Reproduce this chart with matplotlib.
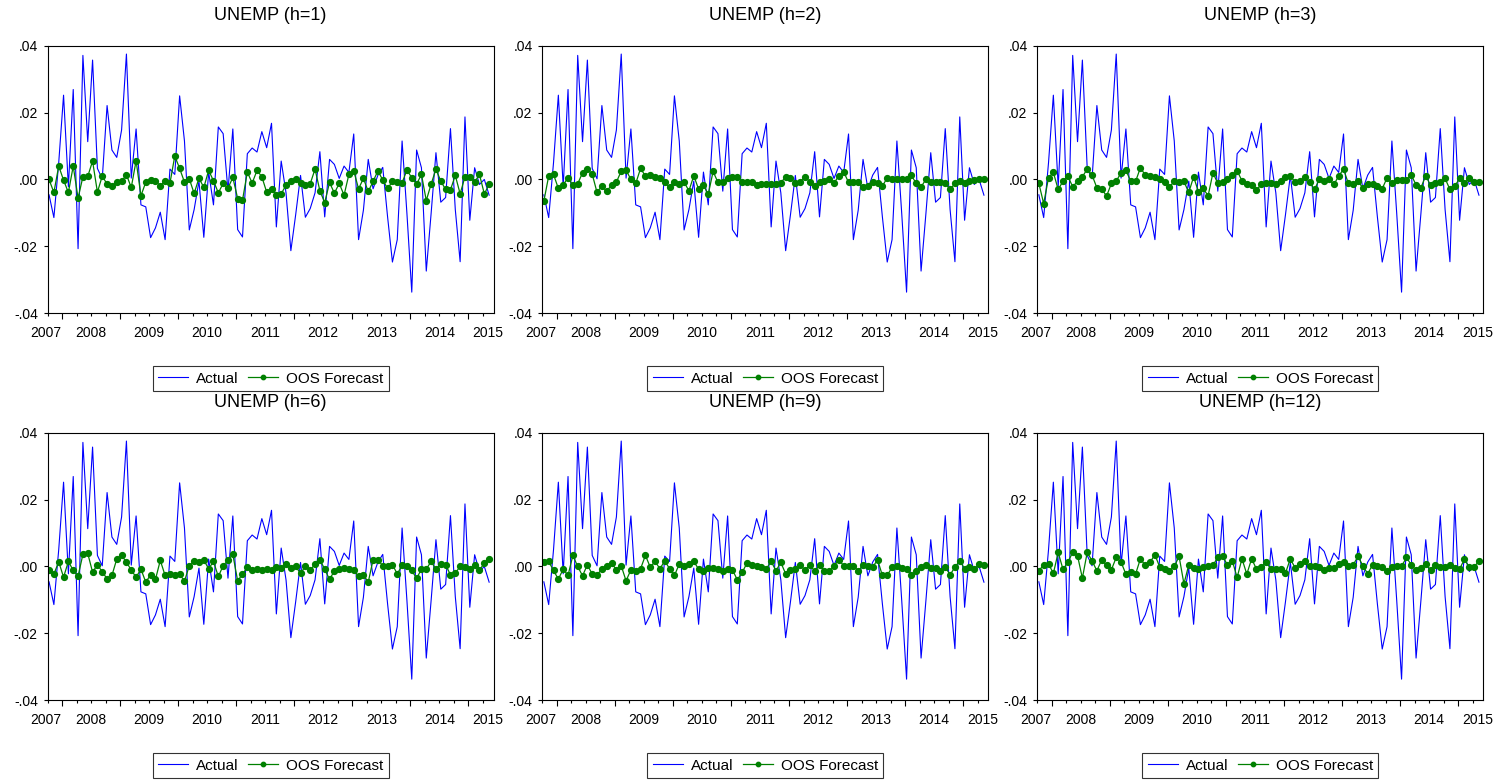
import numpy as np
import matplotlib
matplotlib.use("Agg")
from matplotlib import pyplot as plt
from matplotlib.transforms import blended_transform_factory

plt.rcParams['font.family'] = ['Liberation Sans', 'DejaVu Sans']

# monthly sample 2007M10 - 2015M05
start_year, start_month = 2007, 10
years = [2007, 2008, 2009, 2010, 2011, 2012, 2013, 2014, 2015]
horizons = [1, 2, 3, 6, 9, 12]

actual = [
    -0.0046, -0.0114, 0.0050, 0.0252, -0.0022, 0.0269, -0.0207, 0.0371, 0.0113, 0.0357,
    0.0033, 0.0002, 0.0221, 0.0088, 0.0066, 0.0148, 0.0375, 0.0004, 0.0151, -0.0076,
    -0.0082, -0.0174, -0.0145, -0.0098, -0.0180, 0.0031, 0.0015, 0.0250, 0.0115, -0.0151,
    -0.0090, -0.0005, -0.0173, 0.0022, -0.0076, 0.0157, 0.0137, -0.0035, 0.0151, -0.0150,
    -0.0172, 0.0077, 0.0094, 0.0082, 0.0143, 0.0095, 0.0168, -0.0142, 0.0055, -0.0040,
    -0.0213, -0.0105, 0.0012, -0.0113, -0.0087, -0.0040, 0.0083, -0.0112, 0.0060, 0.0045,
    0.0003, 0.0040, 0.0021, 0.0136, -0.0180, -0.0092, 0.0060, -0.0028, 0.0013, 0.0036,
    -0.0112, -0.0247, -0.0180, 0.0115, -0.0102, -0.0337, 0.0088, 0.0035, -0.0274, -0.0102,
    0.0080, -0.0068, -0.0054, 0.0152, -0.0090, -0.0246, 0.0187, -0.0122, 0.0035, -0.0015,
    0.0000, -0.0047,
]

fc_h1 = [
    0.0000, -0.0039, 0.0040, -0.0002, -0.0039, 0.0040, -0.0056, 0.0008, 0.0009, 0.0055,
    -0.0038, 0.0010, -0.0014, -0.0020, -0.0008, -0.0006, 0.0014, -0.0024, 0.0056, -0.0049,
    -0.0008, -0.0003, -0.0005, -0.0019, -0.0005, -0.0011, 0.0070, 0.0033, -0.0008, 0.0002,
    -0.0042, 0.0004, -0.0024, 0.0027, -0.0004, -0.0040, -0.0012, -0.0026, 0.0006, -0.0057,
    -0.0062, 0.0022, -0.0011, 0.0027, 0.0008, -0.0038, -0.0029, -0.0048, -0.0043, -0.0017,
    -0.0006, 0.0002, -0.0012, -0.0018, -0.0013, 0.0031, -0.0034, -0.0069, -0.0009, -0.0041,
    -0.0012, -0.0047, 0.0015, 0.0026, -0.0028, 0.0003, -0.0036, -0.0006, 0.0026, -0.0002,
    -0.0027, -0.0006, -0.0009, -0.0010, 0.0028, 0.0005, -0.0014, 0.0015, -0.0063, -0.0014,
    0.0031, -0.0005, -0.0030, -0.0031, 0.0012, -0.0043, 0.0008, 0.0006, -0.0008, 0.0015,
    -0.0043, -0.0015,
]

fc_h2 = [
    -0.0065, 0.0010, 0.0015, -0.0027, -0.0016, 0.0005, -0.0018, -0.0013, 0.0020, 0.0030,
    0.0016, -0.0039, -0.0019, -0.0036, -0.0016, -0.0008, 0.0025, 0.0028, 0.0000, -0.0012,
    0.0033, 0.0010, 0.0012, 0.0008, 0.0004, -0.0009, -0.0024, -0.0007, -0.0015, -0.0008,
    -0.0034, 0.0011, -0.0029, -0.0018, -0.0044, 0.0024, -0.0009, -0.0007, 0.0003, 0.0008,
    0.0008, -0.0008, -0.0009, -0.0009, -0.0016, -0.0013, -0.0013, -0.0014, -0.0014, -0.0010,
    0.0008, 0.0005, -0.0012, -0.0007, 0.0008, -0.0007, -0.0020, -0.0009, -0.0005, 0.0000,
    -0.0011, 0.0011, 0.0023, -0.0009, -0.0009, -0.0009, -0.0024, -0.0020, -0.0007, -0.0010,
    -0.0020, 0.0005, 0.0001, 0.0001, 0.0001, 0.0001, 0.0012, -0.0012, -0.0022, 0.0000,
    -0.0007, -0.0007, -0.0009, -0.0012, -0.0030, -0.0012, -0.0005, -0.0010, -0.0005, -0.0002,
    0.0000, 0.0000,
]

fc_h3 = [
    -0.0012, -0.0072, 0.0005, 0.0021, -0.0030, -0.0005, 0.0010, -0.0022, -0.0005, 0.0008,
    0.0031, 0.0013, -0.0025, -0.0028, -0.0050, -0.0012, -0.0005, 0.0020, 0.0028, -0.0006,
    -0.0006, 0.0035, 0.0013, 0.0010, 0.0008, 0.0001, -0.0007, -0.0022, -0.0006, -0.0009,
    -0.0006, -0.0039, 0.0008, -0.0037, -0.0027, -0.0049, 0.0020, -0.0012, -0.0009, 0.0001,
    0.0013, 0.0026, -0.0004, -0.0014, -0.0017, -0.0033, -0.0013, -0.0012, -0.0012, -0.0014,
    -0.0005, 0.0006, 0.0010, -0.0008, -0.0006, 0.0008, -0.0008, -0.0030, 0.0000, -0.0005,
    0.0000, -0.0015, 0.0010, 0.0031, -0.0012, -0.0014, -0.0005, -0.0026, -0.0014, -0.0015,
    -0.0020, -0.0028, 0.0005, -0.0012, -0.0002, -0.0002, -0.0002, 0.0013, -0.0016, -0.0025,
    0.0011, -0.0018, -0.0010, -0.0009, 0.0003, -0.0030, -0.0020, 0.0003, -0.0010, 0.0003,
    -0.0007, -0.0007,
]

fc_h6 = [
    -0.0012, -0.0023, 0.0014, -0.0032, 0.0015, -0.0012, -0.0029, 0.0036, 0.0039, -0.0017,
    0.0005, -0.0016, -0.0037, -0.0027, 0.0022, 0.0033, 0.0013, -0.0011, -0.0032, -0.0008,
    -0.0047, -0.0025, -0.0039, 0.0018, -0.0027, -0.0024, -0.0027, -0.0023, -0.0044, 0.0002,
    0.0015, 0.0014, 0.0019, -0.0007, 0.0015, -0.0030, 0.0002, 0.0019, 0.0036, -0.0043,
    -0.0023, -0.0002, -0.0010, -0.0007, -0.0011, -0.0007, -0.0011, -0.0003, -0.0005, 0.0007,
    -0.0005, 0.0000, -0.0021, 0.0001, -0.0011, 0.0007, 0.0020, -0.0008, -0.0039, -0.0013,
    -0.0008, -0.0005, -0.0008, -0.0011, -0.0030, -0.0025, -0.0047, 0.0020, 0.0020, 0.0002,
    0.0002, 0.0005, -0.0022, 0.0003, 0.0002, -0.0012, -0.0036, -0.0008, -0.0008, 0.0015,
    -0.0009, 0.0008, 0.0005, -0.0025, -0.0020, 0.0000, -0.0003, -0.0008, 0.0004, -0.0010,
    0.0009, 0.0023,
]

fc_h9 = [
    0.0013, 0.0015, -0.0012, -0.0038, -0.0008, -0.0027, 0.0033, 0.0000, -0.0028, 0.0005,
    -0.0023, -0.0025, -0.0008, 0.0002, 0.0010, -0.0010, 0.0002, -0.0043, -0.0010, -0.0013,
    -0.0007, 0.0033, -0.0002, 0.0015, -0.0007, 0.0017, -0.0007, -0.0027, 0.0007, 0.0000,
    0.0007, 0.0015, -0.0008, -0.0015, -0.0005, -0.0005, -0.0008, -0.0015, -0.0008, -0.0010,
    -0.0040, -0.0018, 0.0010, 0.0005, 0.0002, -0.0002, -0.0007, 0.0015, -0.0013, 0.0012,
    -0.0022, -0.0010, -0.0008, 0.0003, -0.0010, 0.0003, -0.0013, 0.0003, -0.0013, -0.0015,
    0.0002, 0.0020, 0.0002, 0.0002, 0.0002, -0.0013, 0.0003, 0.0002, -0.0002, 0.0020,
    -0.0027, -0.0027, -0.0002, 0.0002, -0.0005, -0.0008, -0.0027, -0.0013, -0.0002, 0.0003,
    -0.0005, -0.0005, -0.0015, -0.0002, -0.0025, -0.0002, 0.0017, -0.0007, -0.0002, -0.0008,
    0.0007, 0.0003,
]

fc_h12 = [
    -0.0013, 0.0005, 0.0008, -0.0021, 0.0042, -0.0009, 0.0013, 0.0042, 0.0032, -0.0035,
    0.0042, 0.0017, -0.0013, 0.0020, 0.0003, -0.0010, 0.0027, 0.0013, -0.0023, -0.0017,
    -0.0023, 0.0023, 0.0003, 0.0013, 0.0035, -0.0002, -0.0008, -0.0013, 0.0000, 0.0030,
    -0.0052, 0.0005, -0.0005, -0.0007, -0.0002, 0.0002, 0.0003, 0.0028, 0.0030, 0.0005,
    0.0017, -0.0033, 0.0023, -0.0023, 0.0023, -0.0008, -0.0002, 0.0012, -0.0008, -0.0009,
    -0.0007, -0.0020, 0.0023, -0.0005, 0.0007, 0.0015, 0.0000, 0.0000, -0.0002, -0.0012,
    -0.0005, -0.0005, 0.0007, 0.0013, 0.0002, 0.0005, 0.0030, 0.0002, -0.0022, 0.0005,
    0.0000, -0.0002, -0.0013, -0.0002, 0.0000, 0.0000, 0.0027, 0.0005, -0.0012, -0.0005,
    0.0008, -0.0010, 0.0003, -0.0002, -0.0002, 0.0005, -0.0006, -0.0008, 0.0022, -0.0002,
    -0.0002, 0.0017,
]

forecasts = [fc_h1, fc_h2, fc_h3, fc_h6, fc_h9, fc_h12]

W, H = 1502, 780
fig = plt.figure(figsize=(W / 100, H / 100), dpi=100)

n = len(actual)
x = np.arange(n)
month_no = (start_month - 1 + x) % 12          # 0 = January
shift = -0.31                                  # ticks sit just before each observation
quarter_ticks = x[month_no % 3 == 0] + shift
year_ticks = x[month_no == 0] + shift

# where the year labels go (centred inside each calendar year)
label_pos = [-0.7] + [t + 6 for t in year_ticks[:-1]] + [90.7]

lefts = [47.5, 542.3, 1037.3]
tops = [45.7, 432.7]
aw, ah = 446.0, 267.5

for k, (h, fc) in enumerate(zip(horizons, forecasts)):
    r, c = divmod(k, 3)
    ax = fig.add_axes([lefts[c] / W, 1 - (tops[r] + ah) / H, aw / W, ah / H])

    ax.plot(x, actual, color='#0000ff', lw=0.8, label='Actual')
    ax.plot(x, fc, color='#008000', lw=0.9, marker='o', ms=4.2,
            mec='#008000', mfc='#008000', label='OOS Forecast')

    ax.set_xlim(-0.32, 91.9)
    ax.set_ylim(-0.04, 0.04)
    ax.set_yticks([-0.04, -0.02, 0.0, 0.02, 0.04])
    ax.set_yticklabels(['-.04', '-.02', '.00', '.02', '.04'])
    ax.tick_params(axis='y', direction='out', length=3, width=0.8, pad=4, labelsize=10)

    ax.set_xticks(year_ticks)
    ax.set_xticks([t for t in quarter_ticks if t not in set(year_ticks)], minor=True)
    ax.set_xticklabels([])
    ax.tick_params(axis='x', which='major', direction='out', length=4, width=0.8)
    ax.tick_params(axis='x', which='minor', direction='out', length=2.2, width=0.8)

    trans = blended_transform_factory(ax.transData, ax.transAxes)
    for yr, pos in zip(years, label_pos):
        ax.text(pos, -0.073, str(yr), transform=trans, ha='center', va='center',
                fontsize=10, clip_on=False)

    for s in ax.spines.values():
        s.set_linewidth(0.8)

    ax.text(0.5, 1.113, f'UNEMP (h={h})', transform=ax.transAxes,
            ha='center', va='center', fontsize=13)

    leg = ax.legend(loc='upper center', bbox_to_anchor=(0.5, -0.198), ncol=2,
                    fontsize=11, frameon=True, fancybox=False, handlelength=2.0,
                    handletextpad=0.5, columnspacing=0.6, borderpad=0.35,
                    borderaxespad=0.0, markerscale=0.75)
    leg.get_frame().set_edgecolor('black')
    leg.get_frame().set_linewidth(0.8)

fig.savefig('out.png', dpi=100)
